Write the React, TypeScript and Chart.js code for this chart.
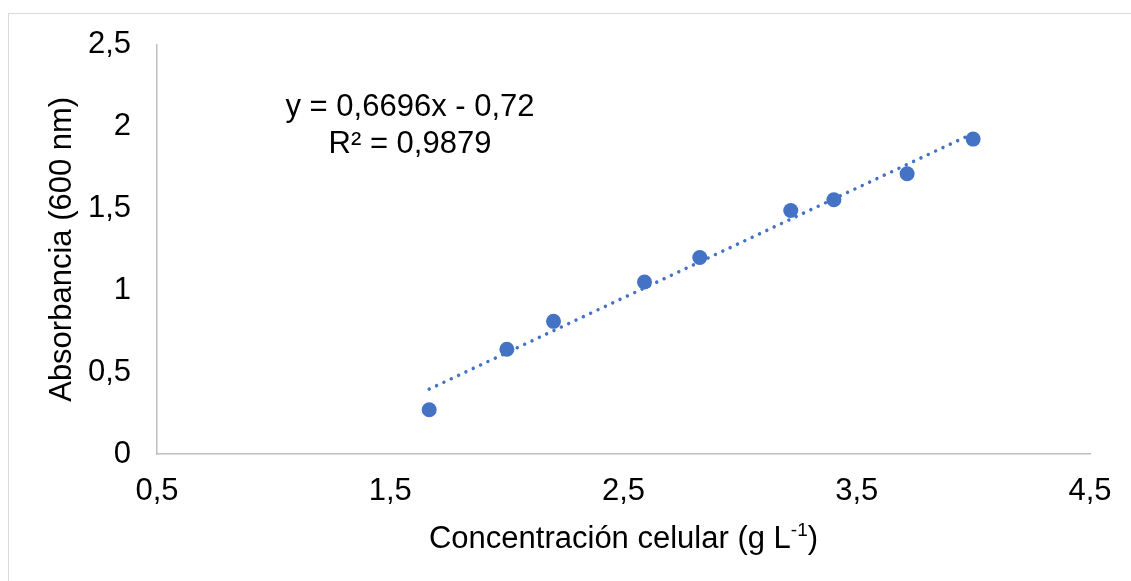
import React, { useEffect, useRef } from "react";
import { Chart, registerables } from "chart.js";

Chart.register(...registerables);

// Data
const concentration = [1.667, 2.0, 2.2, 2.59, 2.827, 3.217, 3.402, 3.716, 3.999];
const absorbance = [0.27, 0.64, 0.81, 1.05, 1.2, 1.487, 1.553, 1.711, 1.923];
const slope = 0.6696;
const intercept = -0.72;
const equationText = "y = 0,6696x - 0,72";
const r2Text = "R² = 0,9879";
const xTitle = "Concentración celular (g L";
const xTitleSup = "-1";
const yTitle = "Absorbancia (600 nm)";

const FONT = "'Liberation Sans', Arial, sans-serif";
const BLUE = "#4472C4";

const fmt = (v: number) => String(Math.round(v * 10) / 10).replace(".", ",");

export default function App() {
  const ref = useRef<HTMLCanvasElement>(null);

  useEffect(() => {
    const canvas = ref.current;
    if (!canvas) return;
    const xMin = Math.min(...concentration);
    const xMax = Math.max(...concentration);
    const trend = [
      { x: xMin, y: slope * xMin + intercept },
      { x: xMax, y: slope * xMax + intercept },
    ];
    const points = concentration.map((x, i) => ({ x, y: absorbance[i] }));

    const textPlugin = {
      id: "texts",
      beforeDraw(chart: any) {
        const ctx = chart.ctx;
        ctx.save();
        ctx.strokeStyle = "#d9d9d9";
        ctx.lineWidth = 1;
        ctx.strokeRect(8.5, 13.5, 1200, 700);
        ctx.restore();
      },
      afterDraw(chart: any) {
        const ctx = chart.ctx;
        const area = chart.chartArea;
        ctx.save();
        ctx.fillStyle = "#000";
        // equation
        ctx.font = `31px ${FONT}`;
        ctx.textAlign = "center";
        ctx.textBaseline = "alphabetic";
        ctx.fillText(equationText, 410, 116);
        ctx.fillText(r2Text, 410, 153);
        // x title with superscript
        const cx = (area.left + area.right) / 2;
        ctx.font = `31px ${FONT}`;
        const w1 = ctx.measureText(xTitle).width;
        ctx.font = `19px ${FONT}`;
        const w2 = ctx.measureText(xTitleSup).width;
        ctx.font = `31px ${FONT}`;
        const w3 = ctx.measureText(")").width;
        const total = w1 + w2 + w3;
        let sx = cx - total / 2;
        const by = 548;
        ctx.textAlign = "left";
        ctx.fillText(xTitle, sx, by);
        ctx.font = `19px ${FONT}`;
        ctx.fillText(xTitleSup, sx + w1, by - 12);
        ctx.font = `31px ${FONT}`;
        ctx.fillText(")", sx + w1 + w2, by);
        // y title
        ctx.translate(62, (area.top + area.bottom) / 2);
        ctx.rotate(-Math.PI / 2);
        ctx.textAlign = "center";
        ctx.textBaseline = "middle";
        ctx.fillText(yTitle, 0, 0);
        ctx.restore();
      },
    };

    const chart = new Chart(canvas, {
      type: "scatter",
      data: {
        datasets: [
          {
            type: "line",
            data: trend,
            borderColor: BLUE,
            borderWidth: 3.5,
            borderDash: [0.01, 8.1],
            borderCapStyle: "round",
            pointRadius: 0,
            fill: false,
          } as any,
          {
            type: "scatter",
            data: points,
            backgroundColor: BLUE,
            borderColor: BLUE,
            borderWidth: 0,
            pointRadius: 7.5,
            pointHoverRadius: 7.5,
          },
        ],
      },
      options: {
        animation: false,
        responsive: false,
        maintainAspectRatio: false,
        events: [],
        layout: { padding: { left: 0, top: 44, right: 41, bottom: 0 } },
        plugins: { legend: { display: false }, tooltip: { enabled: false }, title: { display: false } },
        scales: {
          x: {
            type: "linear",
            min: 0.5,
            max: 4.5,
            afterFit: (s: any) => { s.height = 127; },
            ticks: {
              stepSize: 1,
              color: "#000",
              font: { family: FONT, size: 31 },
              padding: 19,
              callback: (v: any) => fmt(Number(v)),
              maxRotation: 0,
            },
            grid: { display: false, drawTicks: false },
            border: { display: true, color: "#bfbfbf", width: 1.5 },
          },
          y: {
            type: "linear",
            min: 0,
            max: 2.5,
            afterFit: (s: any) => { s.width = 157; },
            ticks: {
              stepSize: 0.5,
              color: "#000",
              font: { family: FONT, size: 31 },
              padding: 26,
              callback: (v: any) => fmt(Number(v)),
            },
            grid: { display: false, drawTicks: false },
            border: { display: true, color: "#bfbfbf", width: 1.5 },
          },
        },
      },
      plugins: [textPlugin],
    } as any);
    return () => chart.destroy();
  }, []);

  return (
    <div style={{ position: "fixed", left: 0, top: 0, width: 1131, height: 581, background: "#fff" }}>
      <canvas ref={ref} width={1131} height={581} style={{ display: "block" }} />
    </div>
  );
}
